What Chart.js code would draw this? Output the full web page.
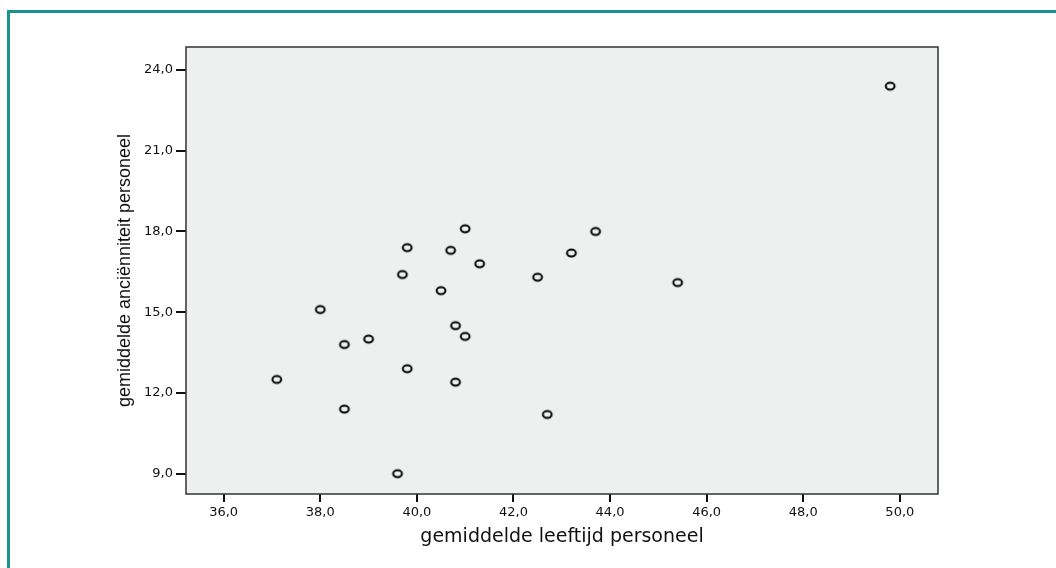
<!DOCTYPE html>
<html>
<head>
<meta charset="utf-8">
<script src="https://cdn.jsdelivr.net/npm/chart.js@4/dist/chart.umd.min.js"></script>
<style>
  html, body { margin: 0; padding: 0; background: #fff; overflow: hidden; }
  .frame {
    position: absolute; left: 7px; top: 10px; width: 1200px; height: 700px;
    border-left: 3px solid #17948f; border-top: 3px solid #17948f;
  }
  #chart { position: absolute; left: 0; top: 0; }
</style>
</head>
<body>
<div class="frame"></div>
<canvas id="chart" width="1056" height="568"></canvas>
<script>
// values
const ageValues = [49.8, 41.0, 43.7, 39.8, 40.7, 43.2, 41.3, 39.7, 42.5, 45.4, 40.5,
                   38.0, 40.8, 41.0, 39.0, 38.5, 39.8, 37.1, 40.8, 38.5, 42.7, 39.6];
const seniorityValues = [23.4, 18.1, 18.0, 17.4, 17.3, 17.2, 16.8, 16.4, 16.3, 16.1, 15.8,
                         15.1, 14.5, 14.1, 14.0, 13.8, 12.9, 12.5, 12.4, 11.4, 11.2, 9.0];
const xTickValues = [36, 38, 40, 42, 44, 46, 48, 50];
const yTickValues = [9, 12, 15, 18, 21, 24];
const xTitle = 'gemiddelde leeftijd personeel';
const yTitle = 'gemiddelde anciënniteit personeel';

const fmt = v => v.toFixed(1).replace('.', ',');

// hollow, slightly flattened marker like the SPSS output
const marker = document.createElement('canvas');
marker.width = 14;
marker.height = 12;
const mctx = marker.getContext('2d');
mctx.lineWidth = 2;
mctx.strokeStyle = '#000';
mctx.beginPath();
mctx.ellipse(7, 6, 4.4, 3.4, 0, 0, Math.PI * 2);
mctx.stroke();

const plotBox = {
  id: 'plotBox',
  beforeDatasetsDraw(chart) {
    const { ctx, chartArea: a } = chart;
    ctx.save();
    ctx.fillStyle = '#eef0ef';
    ctx.fillRect(a.left, a.top, a.right - a.left, a.bottom - a.top);
    ctx.strokeStyle = '#333';
    ctx.lineWidth = 1.5;
    ctx.strokeRect(a.left, a.top, a.right - a.left, a.bottom - a.top);
    ctx.restore();
  }
};

const ctx = document.getElementById('chart').getContext('2d');
new Chart(ctx, {
  type: 'scatter',
  data: {
    datasets: [{
      data: ageValues.map((x, i) => ({ x: x, y: seniorityValues[i] })),
      pointStyle: marker,
      pointRadius: 5
    }]
  },
  options: {
    responsive: false,
    animation: false,
    devicePixelRatio: 1,
    events: [],
    layout: { padding: { top: 47, right: 118, bottom: 0, left: 0 } },
    plugins: { legend: { display: false }, tooltip: { enabled: false } },
    scales: {
      x: {
        type: 'linear',
        min: 35.22,
        max: 50.79,
        afterFit: s => { s.height = 74; },
        afterBuildTicks: s => { s.ticks = xTickValues.map(v => ({ value: v })); },
        grid: { display: true, drawOnChartArea: false, drawTicks: true, tickLength: 8, color: '#111', lineWidth: 2 },
        border: { display: false },
        ticks: {
          padding: 3,
          color: '#111',
          font: { family: 'DejaVu Sans', size: 13 },
          callback: v => fmt(v)
        },
        title: {
          display: true,
          text: xTitle,
          color: '#111',
          font: { family: 'DejaVu Sans', size: 19 },
          padding: { top: 0, bottom: 20 }
        }
      },
      y: {
        type: 'linear',
        min: 8.245,
        max: 24.855,
        afterFit: s => { s.width = 186; },
        afterBuildTicks: s => { s.ticks = yTickValues.map(v => ({ value: v })); },
        grid: { display: true, drawOnChartArea: false, drawTicks: true, tickLength: 10, color: '#111', lineWidth: 2 },
        border: { display: false },
        ticks: {
          padding: 3,
          color: '#111',
          font: { family: 'DejaVu Sans', size: 13 },
          callback: v => fmt(v)
        },
        title: {
          display: true,
          text: yTitle,
          color: '#111',
          font: { family: 'Liberation Sans', size: 18 },
          padding: { top: 114, bottom: 0 }
        }
      }
    }
  },
  plugins: [plotBox]
});
</script>
</body>
</html>
